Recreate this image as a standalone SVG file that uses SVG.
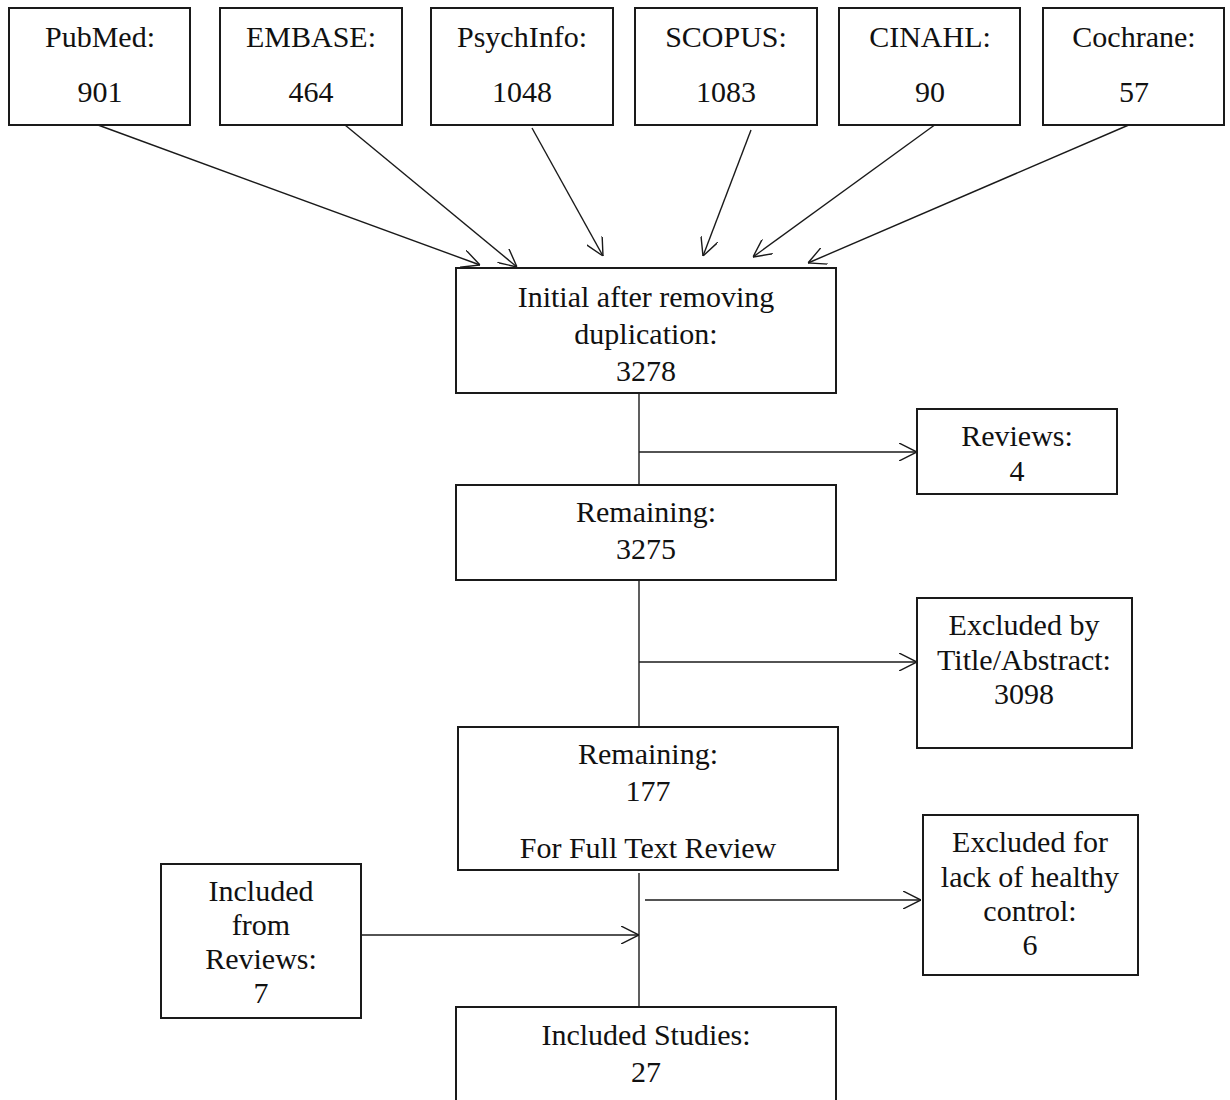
<svg xmlns="http://www.w3.org/2000/svg" width="1230" height="1100" viewBox="0 0 1230 1100">
<style>
.box{fill:#fff;stroke:#1a1a1a;stroke-width:2}
.t{font-family:"Liberation Serif","Times New Roman",serif;font-size:30px;fill:#111;text-anchor:middle}
.c{fill:none;stroke:#1a1a1a;stroke-width:1.4}
</style>
<defs>
<marker id="ah" viewBox="0 0 18 18" refX="18" refY="9" markerWidth="18" markerHeight="18" markerUnits="userSpaceOnUse" orient="auto">
<path d="M0,0 L18,9 L0,18" fill="none" stroke="#1a1a1a" stroke-width="1.4"/>
</marker>
</defs>
<rect width="1230" height="1100" fill="#fff"/>
<g id="connectors">
<line class="c" x1="98" y1="125" x2="480" y2="265" marker-end="url(#ah)"/>
<line class="c" x1="345" y1="125" x2="517" y2="267" marker-end="url(#ah)"/>
<line class="c" x1="532" y1="128" x2="603" y2="256" marker-end="url(#ah)"/>
<line class="c" x1="751" y1="130" x2="703" y2="256" marker-end="url(#ah)"/>
<line class="c" x1="936" y1="124" x2="753" y2="257" marker-end="url(#ah)"/>
<line class="c" x1="1131" y1="124" x2="808" y2="263" marker-end="url(#ah)"/>
<line class="c" x1="639" y1="393" x2="639" y2="485"/>
<line class="c" x1="639" y1="452" x2="917" y2="452" marker-end="url(#ah)"/>
<line class="c" x1="639" y1="580" x2="639" y2="731"/>
<line class="c" x1="639" y1="662" x2="917" y2="662" marker-end="url(#ah)"/>
<line class="c" x1="639" y1="873" x2="639" y2="1007"/>
<line class="c" x1="645" y1="900" x2="921" y2="900" marker-end="url(#ah)"/>
<line class="c" x1="361" y1="935" x2="639" y2="935" marker-end="url(#ah)"/>
</g>
<g id="pubmed"><rect class="box" x="9" y="8" width="181" height="117"/><text class="t" x="100" y="47">PubMed:</text><text class="t" x="100" y="102">901</text></g>
<g id="embase"><rect class="box" x="220" y="8" width="182" height="117"/><text class="t" x="311" y="47">EMBASE:</text><text class="t" x="311" y="102">464</text></g>
<g id="psychinfo"><rect class="box" x="431" y="8" width="182" height="117"/><text class="t" x="522" y="47">PsychInfo:</text><text class="t" x="522" y="102">1048</text></g>
<g id="scopus"><rect class="box" x="635" y="8" width="182" height="117"/><text class="t" x="726" y="47">SCOPUS:</text><text class="t" x="726" y="102">1083</text></g>
<g id="cinahl"><rect class="box" x="839" y="8" width="181" height="117"/><text class="t" x="930" y="47">CINAHL:</text><text class="t" x="930" y="102">90</text></g>
<g id="cochrane"><rect class="box" x="1043" y="8" width="181" height="117"/><text class="t" x="1134" y="47">Cochrane:</text><text class="t" x="1134" y="102">57</text></g>
<g id="initial"><rect class="box" x="456" y="268" width="380" height="125"/><text class="t" x="646" y="307">Initial after removing</text><text class="t" x="646" y="344">duplication:</text><text class="t" x="646" y="381">3278</text></g>
<g id="reviews"><rect class="box" x="917" y="409" width="200" height="85"/><text class="t" x="1017" y="446">Reviews:</text><text class="t" x="1017" y="481">4</text></g>
<g id="remaining1"><rect class="box" x="456" y="485" width="380" height="95"/><text class="t" x="646" y="522">Remaining:</text><text class="t" x="646" y="559">3275</text></g>
<g id="excluded-title"><rect class="box" x="917" y="598" width="215" height="150"/><text class="t" x="1024" y="635">Excluded by</text><text class="t" x="1024" y="670">Title/Abstract:</text><text class="t" x="1024" y="704">3098</text></g>
<g id="remaining2"><rect class="box" x="458" y="727" width="380" height="143"/><text class="t" x="648" y="764">Remaining:</text><text class="t" x="648" y="801">177</text><text class="t" x="648" y="858">For Full Text Review</text></g>
<g id="included-reviews"><rect class="box" x="161" y="864" width="200" height="154"/><text class="t" x="261" y="901">Included</text><text class="t" x="261" y="935">from</text><text class="t" x="261" y="969">Reviews:</text><text class="t" x="261" y="1003">7</text></g>
<g id="excluded-control"><rect class="box" x="923" y="815" width="215" height="160"/><text class="t" x="1030" y="852">Excluded for</text><text class="t" x="1030" y="887">lack of healthy</text><text class="t" x="1030" y="921">control:</text><text class="t" x="1030" y="955">6</text></g>
<g id="included-studies"><rect class="box" x="456" y="1007" width="380" height="100"/><text class="t" x="646" y="1045">Included Studies:</text><text class="t" x="646" y="1082">27</text></g>
</svg>
